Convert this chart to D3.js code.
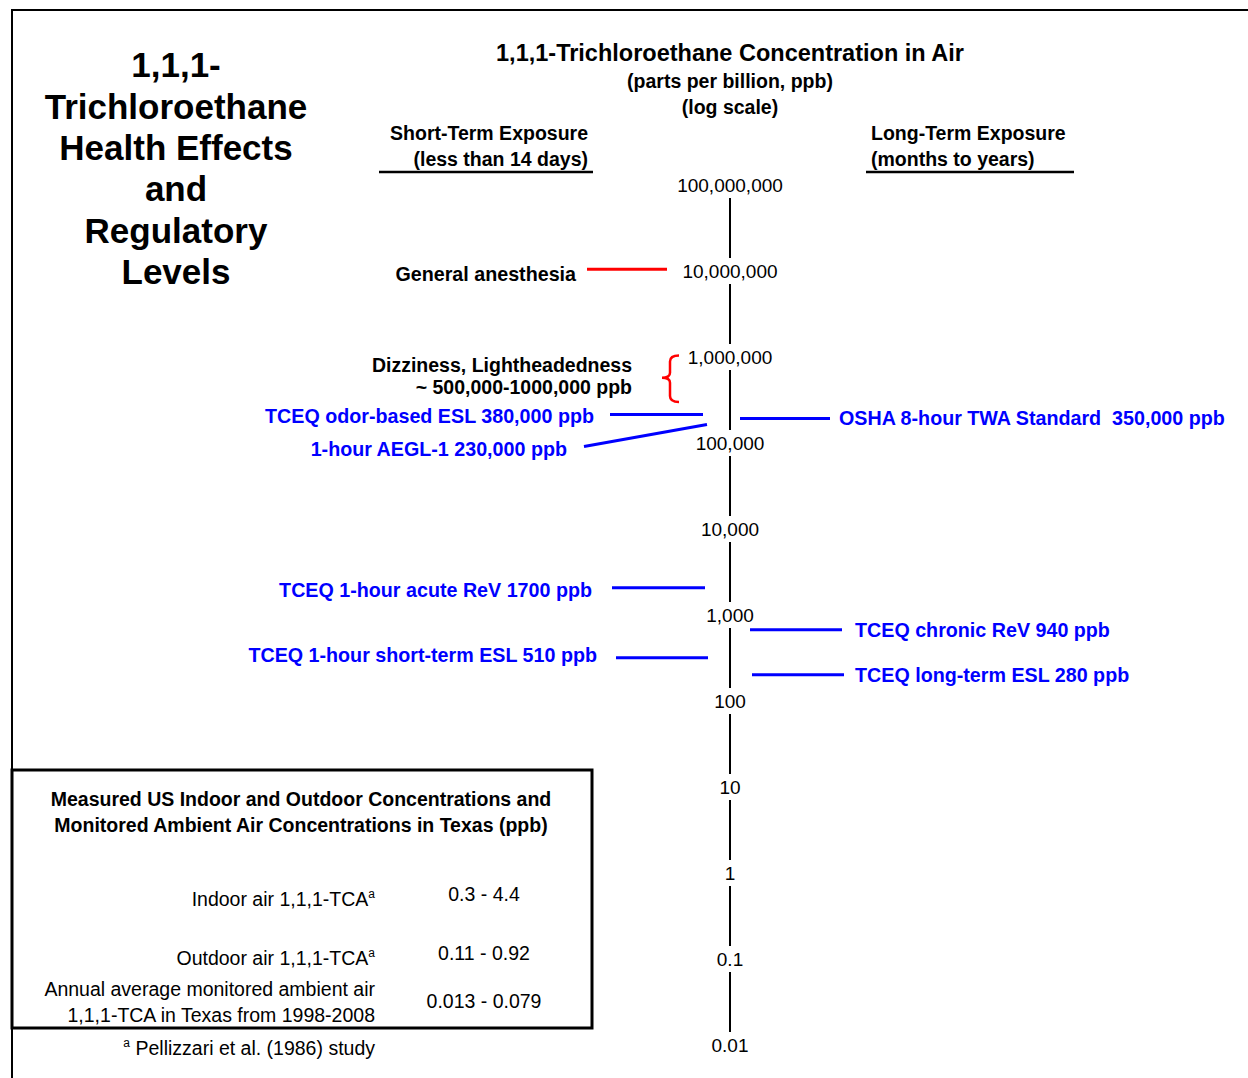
<!DOCTYPE html>
<html>
<head>
<meta charset="utf-8">
<script src="https://cdn.jsdelivr.net/npm/d3@7"></script>
<style>
  body { margin: 0; background: #fff; }
  text { font-family: "Liberation Sans", Arial, sans-serif; }
</style>
</head>
<body>
<div id="grafico"></div>
<script>
// Valores do eixo (ppb, escala log)
const tickValues = [1e8, 1e7, 1e6, 1e5, 1e4, 1e3, 100, 10, 1, 0.1, 0.01];

// Marcas: texto, posição no eixo, tipo
const markLabels = [
  "General anesthesia",
  "TCEQ odor-based ESL 380,000 ppb",
  "1-hour AEGL-1 230,000 ppb",
  "OSHA 8-hour TWA Standard  350,000 ppb",
  "TCEQ 1-hour acute ReV 1700 ppb",
  "TCEQ 1-hour short-term ESL 510 ppb",
  "TCEQ chronic ReV 940 ppb",
  "TCEQ long-term ESL 280 ppb"
];
const markValues = [1.05e7, 2.15e5, 1.64e5, 1.93e5, 2080, 318, 674, 202];
const markKinds  = ["effect", "guideline", "guideline", "guideline", "guideline", "guideline", "guideline", "guideline"];

// Faixa de tontura (chave vermelha)
const dizzinessText  = ["Dizziness, Lightheadedness", "~ 500,000-1000,000 ppb"];
const dizzinessRange = [1.04e6, 3.0e5];

// Tabela de concentrações medidas
const envLabels = [
  ["Indoor air 1,1,1-TCA"],
  ["Outdoor air 1,1,1-TCA"],
  ["Annual average monitored ambient air", "1,1,1-TCA in Texas from 1998-2008"]
];
const envValues = ["0.3 - 4.4", "0.11 - 0.92", "0.013 - 0.079"];
const envNote   = [true, true, false];

const titleLines = ["1,1,1-", "Trichloroethane", "Health Effects", "and", "Regulatory", "Levels"];

const width = 1248, height = 1078;
const axisX = 730;
const font = "'Liberation Sans', Arial, sans-serif";

const svg = d3.select("#grafico")
              .append("svg")
              .attr("width", width)
              .attr("height", height);

// moldura da página
svg.append("path")
   .attr("d", `M12,${height} V10 H${width}`)
   .attr("fill", "none")
   .attr("stroke", "#000")
   .attr("stroke-width", 2);

// titulo da esquerda
svg.append("g").selectAll("text")
   .data(titleLines)
   .enter()
   .append("text")
   .attr("x", 176)
   .attr("y", (d, i) => 65 + i * 41.4)
   .attr("dy", "0.35em")
   .attr("text-anchor", "middle")
   .attr("font-size", "35px")
   .attr("font-weight", "bold")
   .text(d => d);

// titulo do eixo
const head = [
  { t: "1,1,1-Trichloroethane Concentration in Air", y: 53, s: 23.5 },
  { t: "(parts per billion, ppb)", y: 81, s: 19.5 },
  { t: "(log scale)", y: 107, s: 19.5 }
];
svg.append("g").selectAll("text")
   .data(head)
   .enter()
   .append("text")
   .attr("x", axisX)
   .attr("y", d => d.y)
   .attr("dy", "0.35em")
   .attr("text-anchor", "middle")
   .attr("font-size", d => d.s + "px")
   .attr("font-weight", "bold")
   .text(d => d.t);

// cabeçalhos curto / longo prazo
const sub = [
  { t: ["Short-Term Exposure", "(less than 14 days)"], x: 588, anchor: "end", u: [379, 593] },
  { t: ["Long-Term Exposure", "(months to years)"], x: 871, anchor: "start", u: [866, 1074] }
];
sub.forEach(s => {
  s.t.forEach((t, i) => {
    svg.append("text")
       .attr("x", s.x)
       .attr("y", 133 + i * 26)
       .attr("dy", "0.35em")
       .attr("text-anchor", s.anchor)
       .attr("font-size", "19.5px")
       .attr("font-weight", "bold")
       .text(t);
  });
  svg.append("line")
     .attr("x1", s.u[0]).attr("x2", s.u[1])
     .attr("y1", 172).attr("y2", 172)
     .attr("stroke", "#000")
     .attr("stroke-width", 2.5);
});

// escala log vertical
const y = d3.scaleLog()
            .domain([1e8, 0.01])
            .range([185, 1045]);

const fmt = d => d >= 1 ? d3.format(",")(d) : String(d);

const gAxis = svg.append("g")
                 .attr("transform", `translate(${axisX},0)`)
                 .call(d3.axisRight(y).tickValues(tickValues).tickSize(0).tickPadding(0).tickFormat(fmt));
gAxis.select(".domain").remove();
gAxis.attr("font-family", font).attr("font-size", "19px");
gAxis.selectAll("text")
     .attr("x", 0)
     .attr("dy", "0.35em")
     .attr("text-anchor", "middle")
     .attr("fill", "#000");

// segmentos do eixo entre os rotulos
svg.append("g").selectAll("line")
   .data(d3.pairs(tickValues))
   .enter()
   .append("line")
   .attr("x1", axisX).attr("x2", axisX)
   .attr("y1", d => y(d[0]) + 13)
   .attr("y2", d => y(d[1]) - 13)
   .attr("stroke", "#000")
   .attr("stroke-width", 2);

// marcas
const lineColor = d3.scaleOrdinal().domain(["effect", "guideline"]).range(["#ff0000", "#0000ff"]);
const textColor = d3.scaleOrdinal().domain(["effect", "guideline"]).range(["#000000", "#0000ff"]);

const markLayout = [
  { x0: 587, x1: 667, tx: 576, dy: 5 },
  { x0: 610, x1: 703, tx: 594, dy: 2 },
  { x0: 584, x1: 707, tx: 567, dy: 25, lead: -3 },
  { x0: 740, x1: 830, tx: 839, dy: 0 },
  { x0: 612, x1: 705, tx: 592, dy: 2 },
  { x0: 616, x1: 708, tx: 597, dy: -3 },
  { x0: 750, x1: 842, tx: 855, dy: 0 },
  { x0: 752, x1: 844, tx: 855, dy: 0 }
];

const marks = markLabels.map((label, i) => ({
  label, value: markValues[i], kind: markKinds[i], ...markLayout[i]
}));

const gMarks = svg.append("g");
gMarks.selectAll("line")
      .data(marks)
      .enter()
      .append("line")
      .attr("x1", d => d.x0)
      .attr("x2", d => d.x1)
      .attr("y1", d => d.lead !== undefined ? y(d.value) + d.dy + d.lead : y(d.value))
      .attr("y2", d => y(d.value))
      .attr("stroke", d => lineColor(d.kind))
      .attr("stroke-width", 3);

gMarks.selectAll("text")
      .data(marks)
      .enter()
      .append("text")
      .attr("x", d => d.tx)
      .attr("y", d => y(d.value) + d.dy)
      .attr("dy", "0.35em")
      .attr("text-anchor", d => d.tx < axisX ? "end" : "start")
      .attr("font-size", "19.7px")
      .attr("font-weight", "bold")
      .attr("fill", d => textColor(d.kind))
      .style("white-space", "pre")
      .text(d => d.label);

// chave vermelha de tontura
const bTop = y(dizzinessRange[0]), bBot = y(dizzinessRange[1]);
const bMid = (bTop + bBot) / 2 - 1;
const xe = 679, xb = 670, xt = 662;
svg.append("path")
   .attr("d", `M${xe},${bTop} Q${xb},${bTop} ${xb},${bTop + 6} L${xb},${bMid - 5} Q${xb},${bMid} ${xt},${bMid}
               Q${xb},${bMid} ${xb},${bMid + 5} L${xb},${bBot - 6} Q${xb},${bBot} ${xe},${bBot}`)
   .attr("fill", "none")
   .attr("stroke", lineColor("effect"))
   .attr("stroke-width", 2.5);

svg.append("g").selectAll("text")
   .data(dizzinessText)
   .enter()
   .append("text")
   .attr("x", 632)
   .attr("y", (d, i) => bTop + 9.5 + i * 22.5)
   .attr("dy", "0.35em")
   .attr("text-anchor", "end")
   .attr("font-size", "19.5px")
   .attr("font-weight", "bold")
   .text(d => d);

// caixa com as concentrações medidas
svg.append("rect")
   .attr("x", 12).attr("y", 770)
   .attr("width", 580).attr("height", 258)
   .attr("fill", "none")
   .attr("stroke", "#000")
   .attr("stroke-width", 3);

["Measured US Indoor and Outdoor Concentrations and",
 "Monitored Ambient Air Concentrations in Texas (ppb)"].forEach((t, i) => {
  svg.append("text")
     .attr("x", 301)
     .attr("y", 799 + i * 26)
     .attr("dy", "0.35em")
     .attr("text-anchor", "middle")
     .attr("font-size", "19.5px")
     .attr("font-weight", "bold")
     .text(t);
});

const rowY = [[899], [958], [989, 1015]];
const valY = [894, 953, 1001];

envLabels.forEach((lines, i) => {
  lines.forEach((t, j) => {
    const txt = svg.append("text")
                   .attr("x", 375)
                   .attr("y", rowY[i][j])
                   .attr("dy", "0.35em")
                   .attr("text-anchor", "end")
                   .attr("font-size", "19.5px");
    txt.append("tspan").text(t);
    if (envNote[i]) {
      txt.append("tspan")
         .attr("font-size", "12px")
         .attr("dy", "-8")
         .text("a");
    }
  });
  svg.append("text")
     .attr("x", 484)
     .attr("y", valY[i])
     .attr("dy", "0.35em")
     .attr("text-anchor", "middle")
     .attr("font-size", "19.5px")
     .text(envValues[i]);
});

// nota de rodapé
const note = svg.append("text")
                .attr("x", 375)
                .attr("y", 1055)
                .attr("text-anchor", "end")
                .attr("font-size", "19.5px");
note.append("tspan").attr("font-size", "12px").attr("dy", "-8").text("a");
note.append("tspan").attr("dy", "8").text(" Pellizzari et al. (1986) study");
</script>
</body>
</html>
